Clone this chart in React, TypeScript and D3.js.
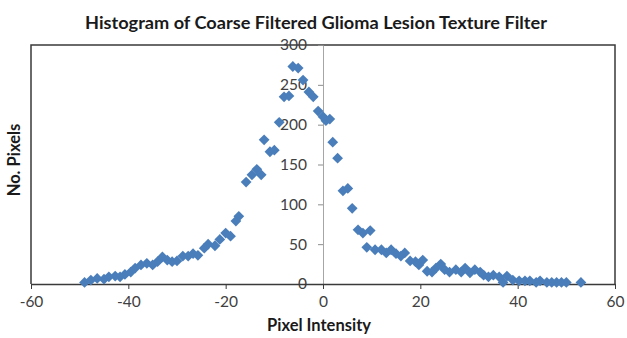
import { useEffect, useRef } from 'react';
import * as d3 from 'd3';

// Pixel intensity (x) and pixel count (y)
const intensity = [
  -49, -47.7, -46.4, -45, -44, -42.7, -41.7, -40.7, -39.5, -38.6,
  -37.4, -36.2, -35, -34, -33, -32, -31, -30, -28.8, -27.7,
  -26.7, -25.7, -24.4, -23.6, -22.2, -21.2, -20, -19, -17.9, -17.3,
  -15.8, -14.6, -13.6, -12.7, -12.1, -10.9, -10, -9, -8, -7,
  -6.2, -5.1, -4.1, -2.9, -2, -1, 0, 0.6, 1.4, 2,
  3, 4.1, 5.1, 6, 7.2, 8.2, 9, 9.7, 10.7, 12,
  13, 14, 15, 16, 16.8, 17.9, 19, 19.7, 20.5, 21.4,
  22.4, 23.2, 24.2, 25, 26, 27.3, 28.4, 29.2, 30.2, 31.2,
  32.3, 33, 34, 35, 36.2, 37, 37.8, 39, 40.3, 41.5,
  42.5, 43.8, 44.6, 46, 47, 48, 49, 50, 53
];
const pixels = [
  2, 5, 7, 6, 9, 10, 9, 12, 15, 20,
  24, 26, 24, 28, 34, 30, 28, 29, 35, 35,
  38, 36, 45, 50, 48, 56, 64, 60, 79, 85,
  128, 137, 144, 137, 181, 166, 168, 203, 235, 236,
  273, 271, 256, 241, 235, 217, 210, 205, 207, 178,
  158, 117, 120, 95, 68, 64, 46, 67, 43, 43,
  39, 43, 38, 35, 39, 29, 28, 24, 30, 16,
  15, 20, 25, 18, 15, 18, 15, 20, 14, 18,
  15, 11, 9, 11, 9, 2, 10, 5, 4, 4,
  4, 2, 4, 2, 2, 2, 2, 2, 2
];

const xTicks = [-60, -40, -20, 0, 20, 40, 60];
const yTicks = [0, 50, 100, 150, 200, 250, 300];

const W = 627;
const H = 338;

export default function App() {
  const svgRef = useRef<SVGSVGElement>(null);

  useEffect(() => {
    if (!svgRef.current) return;
    const svg = d3.select(svgRef.current);
    svg.selectAll('*').remove();

    const x = d3.scaleLinear().domain([-60, 60]).range([31, 615]);
    const y = d3.scaleLinear().domain([0, 300]).range([284, 45]);
    const font = 'Lato, "Open Sans", sans-serif';
    const textColor = '#404040';
    const plain = (d: d3.NumberValue) => String(d); // hyphen minus like Excel

    // Title
    svg.append('text')
      .attr('x', 316)
      .attr('y', 29)
      .attr('text-anchor', 'middle')
      .attr('font-family', font)
      .attr('font-weight', 'bold')
      .attr('font-size', 16.5)
      .attr('fill', '#1a1a1a')
      .attr('textLength', 462)
      .attr('lengthAdjust', 'spacingAndGlyphs')
      .text('Histogram of Coarse Filtered Glioma Lesion Texture Filter');

    // Plot area border (top, left, right)
    svg.append('path')
      .attr('d', `M${x(-60)},${y(0)}V${y(300)}H${x(60)}V${y(0)}`)
      .attr('fill', 'none')
      .attr('stroke', '#3a3a3a')
      .attr('stroke-width', 1.5);

    // Y axis through x = 0
    const yAxis = svg.append('g')
      .attr('transform', `translate(${x(0)},0)`)
      .call(d3.axisLeft(y).tickValues(yTicks).tickFormat(plain).tickSize(5).tickPadding(11).tickSizeOuter(0));
    yAxis.select('.domain').attr('stroke', '#a6a6a6');
    yAxis.selectAll('line').attr('stroke', '#8c8c8c');
    yAxis.selectAll('text')
      .attr('font-family', font)
      .attr('font-size', 15.5)
      .attr('fill', textColor);

    // X axis along y = 0
    const xAxis = svg.append('g')
      .attr('transform', `translate(0,${y(0)})`)
      .call(d3.axisBottom(x).tickValues(xTicks).tickFormat(plain).tickSize(5).tickPadding(7).tickSizeOuter(0));
    xAxis.select('.domain').attr('stroke', '#3a3a3a').attr('stroke-width', 1.5);
    xAxis.selectAll('line').attr('stroke', '#3a3a3a');
    xAxis.selectAll('text')
      .attr('font-family', font)
      .attr('font-size', 15.5)
      .attr('fill', textColor);

    // Points
    const diamond = d3.symbol().type(d3.symbolSquare).size(58);
    svg.append('g')
      .selectAll('path')
      .data(intensity.map((v, i) => ({ v, n: pixels[i] })))
      .join('path')
      .attr('d', diamond)
      .attr('transform', d => `translate(${x(d.v)},${y(d.n)}) rotate(45)`)
      .attr('fill', '#4a7ebb');

    // Axis titles
    svg.append('text')
      .attr('x', 319)
      .attr('y', 331)
      .attr('text-anchor', 'middle')
      .attr('font-family', font)
      .attr('font-weight', 'bold')
      .attr('font-size', 16.5)
      .attr('fill', '#1a1a1a')
      .text('Pixel Intensity');

    svg.append('text')
      .attr('transform', 'translate(20,160) rotate(-90)')
      .attr('text-anchor', 'middle')
      .attr('font-family', font)
      .attr('font-weight', 'bold')
      .attr('font-size', 16.5)
      .attr('fill', '#1a1a1a')
      .text('No. Pixels');
  }, []);

  return (
    <svg
      ref={svgRef}
      width={W}
      height={H}
      style={{ position: 'absolute', left: 0, top: 0, background: '#fff' }}
    />
  );
}
